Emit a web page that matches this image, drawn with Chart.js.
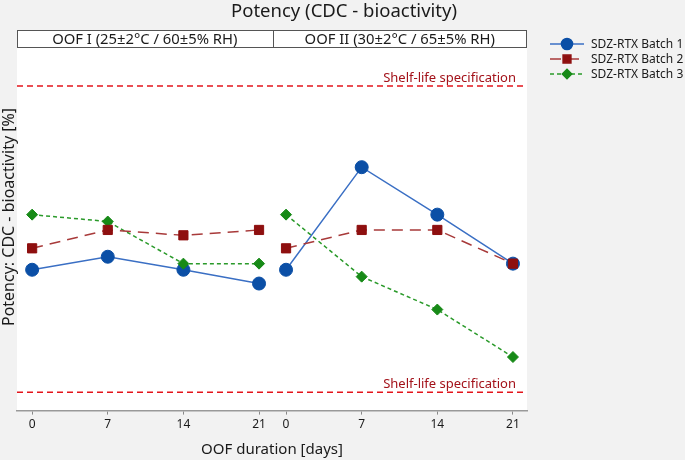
<!DOCTYPE html>
<html>
<head>
<meta charset="utf-8">
<title>Potency (CDC - bioactivity)</title>
<script src="https://cdn.jsdelivr.net/npm/chart.js@4"></script>
<style>
  body { margin: 0; background: #f2f2f2; }
  canvas { display: block; }
</style>
</head>
<body>
<canvas id="my-chart" width="685" height="460"></canvas>
<script>
'use strict';

// Data (% potency)
let days = [0, 7, 14, 21];
let panelNames = ['OOF I (25±2°C / 60±5% RH)', 'OOF II (30±2°C / 65±5% RH)'];
let batchNames = ['SDZ-RTX Batch 1', 'SDZ-RTX Batch 2', 'SDZ-RTX Batch 3'];

let batch1OofI = [96.0, 97.7, 96.0, 94.2];
let batch1OofII = [96.0, 109.4, 103.2, 96.8];
let batch2OofI = [98.8, 101.2, 100.5, 101.2];
let batch2OofII = [98.8, 101.2, 101.2, 96.8];
let batch3OofI = [103.2, 102.3, 96.8, 96.8];
let batch3OofII = [103.2, 95.1, 90.8, 84.6];

let specUpper = 120;
let specLower = 80;
let specLabel = 'Shelf-life specification';

// Layout stuff
let panelShift = 23.5; // where panel two starts on the shared x scale
let fontFam = '"Noto Sans", "Open Sans", sans-serif';

function toPoints(first, second) {
  let pts = [];
  for (let i = 0; i < days.length; i++) {
    pts.push({ x: days[i], y: first[i] });
  }
  pts.push({ x: (days[days.length - 1] + panelShift) / 2, y: null });
  for (let i = 0; i < days.length; i++) {
    pts.push({ x: days[i] + panelShift, y: second[i] });
  }
  return pts;
}

let tickSpots = days.concat(days.map(d => d + panelShift));

// Helper plugin: white plot, panel headers, spec lines, legend, titles
let decorPlugin = {
  id: 'decor',
  beforeDraw(chart) {
    let ctx = chart.ctx;
    let area = chart.chartArea;
    ctx.save();
    ctx.fillStyle = '#f2f2f2';
    ctx.fillRect(0, 0, chart.width, chart.height);
    ctx.fillStyle = '#ffffff';
    ctx.fillRect(area.left, area.top, area.right - area.left, area.bottom - area.top);
    ctx.restore();
  },
  beforeDatasetsDraw(chart) {
    let ctx = chart.ctx;
    let area = chart.chartArea;
    let yScale = chart.scales.y;
    ctx.save();
    [specUpper, specLower].forEach(v => {
      let py = yScale.getPixelForValue(v);
      ctx.strokeStyle = '#e3141b';
      ctx.lineWidth = 1.5;
      ctx.setLineDash([6, 4]);
      ctx.beginPath();
      ctx.moveTo(area.left, py);
      ctx.lineTo(area.right, py);
      ctx.stroke();
      ctx.setLineDash([]);
      ctx.fillStyle = '#a3121a';
      ctx.font = '13px ' + fontFam;
      ctx.textAlign = 'right';
      ctx.textBaseline = 'bottom';
      ctx.fillText(specLabel, area.right - 11, py - 1);
    });
    ctx.restore();
  },
  afterDraw(chart) {
    let ctx = chart.ctx;
    let area = chart.chartArea;
    let xScale = chart.scales.x;
    ctx.save();

    // main title
    ctx.fillStyle = '#1a1a1a';
    ctx.font = '18.5px ' + fontFam;
    ctx.textAlign = 'center';
    ctx.textBaseline = 'middle';
    ctx.fillText('Potency (CDC - bioactivity)', 344, 12);

    // panel header boxes
    let top = 30;
    let bottom = area.top;
    let mid = xScale.getPixelForValue((days[days.length - 1] + panelShift) / 2);
    ctx.fillStyle = '#ffffff';
    ctx.fillRect(area.left, top, area.right - area.left, bottom - top);
    ctx.strokeStyle = '#555';
    ctx.lineWidth = 1;
    ctx.strokeRect(area.left + 0.5, top + 0.5, area.right - area.left - 1, bottom - top);
    ctx.beginPath();
    ctx.moveTo(Math.round(mid) + 0.5, top);
    ctx.lineTo(Math.round(mid) + 0.5, bottom);
    ctx.stroke();
    ctx.fillStyle = '#1a1a1a';
    ctx.font = '14.8px ' + fontFam;
    ctx.fillText(panelNames[0], (area.left + mid) / 2, (top + bottom) / 2 + 1);
    ctx.fillText(panelNames[1], (mid + area.right) / 2, (top + bottom) / 2 + 1);

    // y title
    ctx.save();
    ctx.translate(9, 217);
    ctx.rotate(-Math.PI / 2);
    ctx.font = '16px ' + fontFam;
    ctx.fillText('Potency: CDC - bioactivity [%]', 0, 0);
    ctx.restore();

    // legend
    let rows = [44, 59, 74];
    chart.data.datasets.forEach((ds, i) => {
      let ly = rows[i];
      ctx.strokeStyle = ds.borderColor;
      ctx.lineWidth = ds.borderWidth;
      ctx.setLineDash(ds.borderDash || []);
      ctx.beginPath();
      ctx.moveTo(550, ly);
      ctx.lineTo(584, ly);
      ctx.stroke();
      ctx.setLineDash([]);
      ctx.fillStyle = ds.pointBackgroundColor;
      ctx.strokeStyle = ds.pointBorderColor;
      Chart.helpers.drawPoint(ctx, {
        pointStyle: ds.pointStyle,
        radius: ds.pointRadius * 0.85,
        borderWidth: ds.pointBorderWidth,
        rotation: 0
      }, 567, ly);
      ctx.fillStyle = '#1a1a1a';
      ctx.font = '12px ' + fontFam;
      ctx.textAlign = 'left';
      ctx.textBaseline = 'middle';
      ctx.fillText(batchNames[i], 591, ly + 1);
    });
    ctx.restore();
  }
};

let canvasElem = document.getElementById('my-chart');

let myObj = {
  type: 'line',
  data: {
    datasets: [{
      label: batchNames[0],
      data: toPoints(batch1OofI, batch1OofII),
      borderColor: '#3a6fc4',
      borderWidth: 1.5,
      pointStyle: 'circle',
      pointRadius: 6.5,
      pointBackgroundColor: '#0b4fa6',
      pointBorderColor: '#0b4fa6',
      pointBorderWidth: 1,
      order: 3
    },
    {
      label: batchNames[1],
      data: toPoints(batch2OofI, batch2OofII),
      borderColor: '#a83a3a',
      borderWidth: 1.5,
      borderDash: [11, 7],
      pointStyle: 'rect',
      pointRadius: 6.5,
      pointBackgroundColor: '#8e0f0f',
      pointBorderColor: '#8e0f0f',
      pointBorderWidth: 1,
      order: 1
    },
    {
      label: batchNames[2],
      data: toPoints(batch3OofI, batch3OofII),
      borderColor: '#2a9a2a',
      borderWidth: 1.5,
      borderDash: [4, 3],
      pointStyle: 'rectRot',
      pointRadius: 5.5,
      pointBackgroundColor: '#178a17',
      pointBorderColor: '#178a17',
      pointBorderWidth: 1,
      order: 2
    }]
  },
  options: {
    responsive: false,
    animation: false,
    spanGaps: false,
    layout: {
      padding: { top: 47, left: 17, right: 158, bottom: 0 }
    },
    plugins: {
      legend: { display: false },
      title: { display: false },
      tooltip: { enabled: false }
    },
    scales: {
      x: {
        type: 'linear',
        min: -1.4,
        max: 45.8,
        afterBuildTicks(scale) {
          scale.ticks = tickSpots.map(v => ({ value: v }));
        },
        ticks: {
          autoSkip: false,
          maxRotation: 0,
          padding: 3,
          color: '#1a1a1a',
          font: { family: fontFam, size: 12 },
          callback(value) {
            return value >= panelShift ? Math.round(value - panelShift) : Math.round(value);
          }
        },
        grid: {
          drawOnChartArea: false,
          drawTicks: true,
          tickLength: 4,
          color: '#888'
        },
        border: { display: true, color: '#999', width: 1.5 },
        title: {
          display: true,
          text: 'OOF duration [days]',
          color: '#1a1a1a',
          font: { family: fontFam, size: 15 },
          padding: { top: 6, bottom: 1 }
        }
      },
      y: {
        display: false,
        min: 77.6,
        max: 125.1
      }
    }
  },
  plugins: [decorPlugin]
};

new Chart(canvasElem, myObj);
</script>
</body>
</html>
